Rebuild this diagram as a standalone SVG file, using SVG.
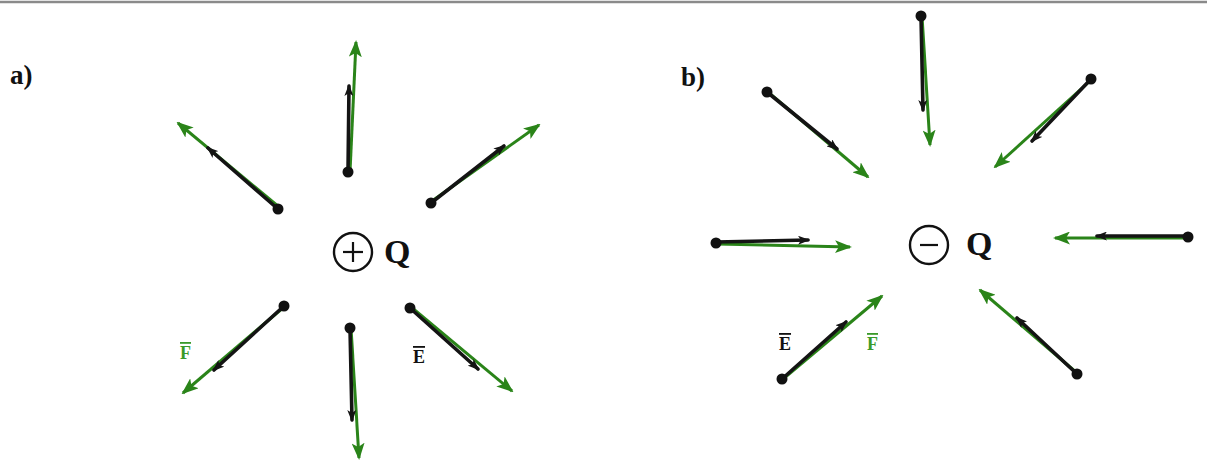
<svg xmlns="http://www.w3.org/2000/svg" width="1207" height="474" viewBox="0 0 1207 474">
<defs>
<style>
.bg{fill:#fff}
.e{stroke:#141414;stroke-width:3.6;fill:none;stroke-linecap:round;marker-end:url(#hb)}
.f{stroke:#2a8419;stroke-width:3;fill:none;marker-end:url(#hg)}
.dot{fill:#111}
.chg{fill:none;stroke:#111;stroke-width:2.4}
.sign{stroke:#111;stroke-width:2.2}
.lbl{font-family:"Liberation Serif",serif;font-weight:bold}
.q{font-size:34px;fill:#111}
.pl{font-size:27px;fill:#111}
.vl{font-size:18px;text-decoration:overline}
</style>
<marker id="hg" markerUnits="userSpaceOnUse" markerWidth="17" markerHeight="13" refX="15" refY="6.5" orient="auto">
<path d="M0,0 L17,6.5 L0,13 L4,6.5 z" fill="#2a8419"/>
</marker>
<marker id="hb" markerUnits="userSpaceOnUse" markerWidth="12" markerHeight="9" refX="10" refY="4.5" orient="auto">
<path d="M0,0 L12,4.5 L0,9 L3,4.5 z" fill="#141414"/>
</marker>
</defs>
<rect class="bg" width="1207" height="474"/>
<line x1="0" y1="2" x2="1207" y2="2" stroke="#8a8a8a" stroke-width="2.5"/>

<text class="lbl pl" x="10" y="84">a)</text>
<text class="lbl pl" x="681" y="86">b)</text>

<g id="chargeA">
<circle class="chg" cx="353" cy="252" r="19"/>
<line class="sign" x1="343" y1="252" x2="363" y2="252"/>
<line class="sign" x1="353" y1="242" x2="353" y2="262"/>
<text class="lbl q" x="384" y="263">Q</text>
</g>

<g id="chargeB">
<circle class="chg" cx="929" cy="245" r="19"/>
<line class="sign" x1="920" y1="245" x2="938" y2="245"/>
<text class="lbl q" x="966" y="255">Q</text>
</g>

<g id="connectors">
<!-- panel a -->
<line class="f" x1="350" y1="172" x2="356" y2="42"/>
<line class="e" x1="348" y1="172" x2="349" y2="86"/>
<line class="f" x1="279" y1="207" x2="178" y2="123"/>
<line class="e" x1="278" y1="209" x2="208" y2="148"/>
<line class="f" x1="432" y1="201" x2="539" y2="125"/>
<line class="e" x1="431" y1="203" x2="504" y2="146"/>
<line class="f" x1="284" y1="307" x2="183" y2="393"/>
<line class="e" x1="284" y1="306" x2="214" y2="370"/>
<line class="f" x1="351" y1="328" x2="359" y2="458"/>
<line class="e" x1="350" y1="328" x2="352" y2="420"/>
<line class="f" x1="411" y1="307" x2="512" y2="391"/>
<line class="e" x1="410" y1="308" x2="478" y2="369"/>
<!-- panel b -->
<line class="f" x1="922" y1="16" x2="930" y2="145"/>
<line class="e" x1="921" y1="16" x2="923" y2="110"/>
<line class="f" x1="768" y1="92" x2="868" y2="177"/>
<line class="e" x1="767" y1="92" x2="837" y2="149"/>
<line class="f" x1="1091" y1="80" x2="995" y2="167"/>
<line class="e" x1="1091" y1="79" x2="1032" y2="141"/>
<line class="f" x1="717" y1="244" x2="850" y2="247"/>
<line class="e" x1="716" y1="242" x2="808" y2="240"/>
<line class="f" x1="1188" y1="238" x2="1055" y2="238"/>
<line class="e" x1="1188" y1="236" x2="1097" y2="236"/>
<line class="f" x1="783" y1="379" x2="882" y2="296"/>
<line class="e" x1="782" y1="379" x2="846" y2="322"/>
<line class="f" x1="1077" y1="373" x2="980" y2="290"/>
<line class="e" x1="1077" y1="374" x2="1017" y2="318"/>
</g>

<g id="dots">
<circle class="dot" cx="348" cy="172" r="5.5"/>
<circle class="dot" cx="278" cy="209" r="5.5"/>
<circle class="dot" cx="431" cy="203" r="5.5"/>
<circle class="dot" cx="284" cy="306" r="5.5"/>
<circle class="dot" cx="350" cy="328" r="5.5"/>
<circle class="dot" cx="410" cy="308" r="5.5"/>
<circle class="dot" cx="921" cy="16" r="5.5"/>
<circle class="dot" cx="767" cy="92" r="5.5"/>
<circle class="dot" cx="1091" cy="79" r="5.5"/>
<circle class="dot" cx="716" cy="243" r="5.5"/>
<circle class="dot" cx="1188" cy="237" r="5.5"/>
<circle class="dot" cx="782" cy="379" r="5.5"/>
<circle class="dot" cx="1077" cy="374" r="5.5"/>
</g>

<g id="labels">
<text class="lbl vl" x="180" y="359" fill="#3a9a2a">F</text>
<text class="lbl vl" x="413" y="363" fill="#111">E</text>
<text class="lbl vl" x="779" y="350" fill="#111">E</text>
<text class="lbl vl" x="867" y="350" fill="#3a9a2a">F</text>
</g>
</svg>
